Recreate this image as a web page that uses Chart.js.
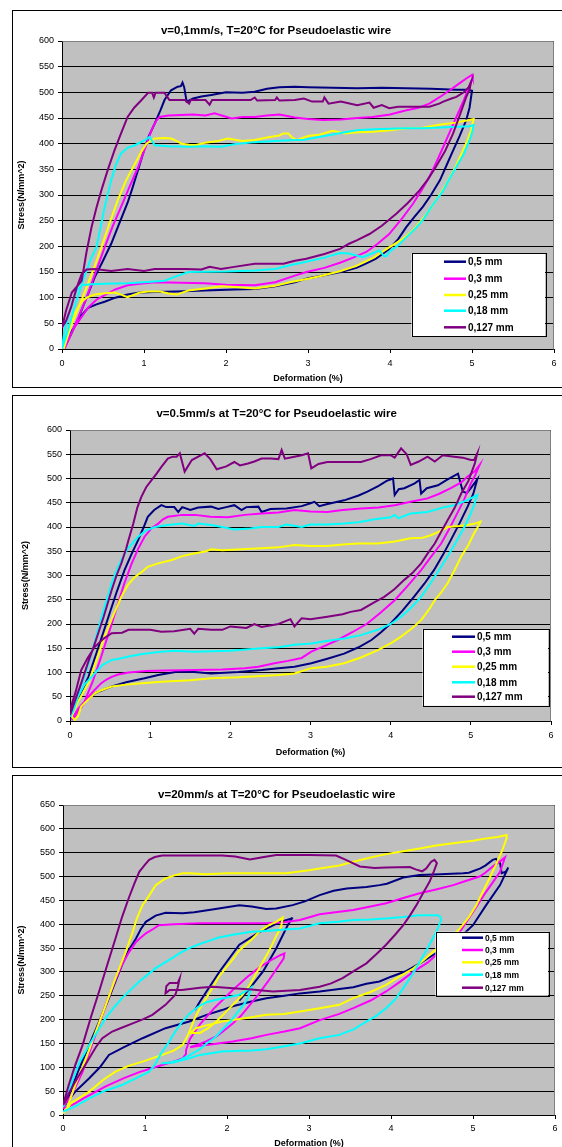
<!DOCTYPE html>
<html><head><meta charset="utf-8">
<script src="https://cdn.jsdelivr.net/npm/chart.js@4.4.0/dist/chart.umd.min.js"></script>
<style>
html,body{margin:0;padding:0;background:#fff;overflow:hidden;width:562px;height:1147px;position:relative;}
.panel{position:absolute;left:12px;width:600px;border:1px solid #000;box-sizing:border-box;}
canvas{position:absolute;left:0;}
</style></head><body>
<div class="panel" style="top:10px;height:378px"></div>
<div class="panel" style="top:395px;height:373px"></div>
<div class="panel" style="top:775px;height:400px"></div>
<canvas id="c1" width="562" height="377" style="top:10px;width:562px;height:377px"></canvas>
<canvas id="c2" width="562" height="372" style="top:395px;width:562px;height:372px"></canvas>
<canvas id="c3" width="562" height="380" style="top:775px;width:562px;height:380px"></canvas>
<script>
// ---------- labels ----------
const seriesLabels = ['0,5 mm','0,3 mm','0,25 mm','0,18 mm','0,127 mm'];
const seriesColors = ['#000080','#FF00FF','#FFFF00','#00FFFF','#800080'];
const chartTitles = ['v=0,1mm/s, T=20°C for Pseudoelastic wire','v=0.5mm/s at T=20°C for Pseudoelastic wire','v=20mm/s at T=20°C for Pseudoelastic wire'];
const xAxisTitle = 'Deformation (%)';
const yAxisTitle = 'Stress(N/mm^2)';
const xMax = 6, xStep = 1;
const yMaxes = [600, 600, 650], yStep = 50;

// ---------- chart 1: v=0,1 mm/s  [deformation %, stress] ----------
const c1_05 = [[0.02,0],[0.1,25],[0.2,60],[0.3,100],[0.4,140],[0.5,172],[0.6,205],[0.7,245],[0.8,285],[0.85,309],[0.92,345],[1.0,387],[1.06,415],[1.13,439],[1.2,465],[1.25,485],[1.33,504],[1.41,511],[1.45,512],[1.47,519],[1.49,510],[1.52,482],[1.6,488],[1.7,492],[1.82,495],[2.0,500],[2.2,499],[2.35,501],[2.5,507],[2.65,510],[2.84,511],[3.0,510],[3.3,509],[3.6,508],[3.9,509],[4.2,508],[4.5,507],[4.81,505],[4.95,505],[5.0,503],[4.97,470],[4.93,446],[4.85,415],[4.77,387],[4.69,358],[4.61,329],[4.5,300],[4.4,277],[4.3,258],[4.2,238],[4.1,214],[3.99,195],[3.83,176],[3.7,166],[3.59,158],[3.4,150],[3.18,143],[3.0,138],[2.84,130],[2.6,122],[2.35,117],[2.1,116],[1.74,114],[1.4,112],[1.13,111],[0.95,110],[0.8,106],[0.65,100],[0.52,92],[0.42,87],[0.32,80],[0.25,68],[0.2,55],[0.12,35],[0.07,16],[0.03,2]];
const c1_03 = [[0.03,0],[0.1,25],[0.2,62],[0.3,100],[0.4,145],[0.52,198],[0.62,240],[0.72,277],[0.82,315],[0.93,355],[1.0,385],[1.09,426],[1.15,445],[1.19,452],[1.3,455],[1.45,456],[1.6,457],[1.75,455],[1.86,459],[1.95,455],[2.07,449],[2.2,452],[2.35,452],[2.5,455],[2.65,457],[2.84,451],[3.0,448],[3.18,446],[3.4,447],[3.6,450],[3.79,452],[4.0,457],[4.2,465],[4.35,470],[4.48,478],[4.6,490],[4.73,504],[4.85,518],[4.93,527],[5.0,534],[5.01,528],[4.99,521],[4.9,485],[4.81,452],[4.73,423],[4.65,394],[4.56,362],[4.48,335],[4.38,308],[4.28,283],[4.15,255],[3.99,224],[3.85,205],[3.71,189],[3.55,178],[3.39,168],[3.2,158],[2.98,150],[2.84,143],[2.6,130],[2.35,124],[2.0,125],[1.74,128],[1.45,129],[1.13,130],[0.95,127],[0.8,124],[0.65,116],[0.52,105],[0.42,96],[0.32,81],[0.22,58],[0.15,42],[0.08,20],[0.03,0]];
const c1_025 = [[0.02,0],[0.1,40],[0.2,80],[0.3,120],[0.4,162],[0.48,198],[0.58,245],[0.68,290],[0.78,328],[0.89,361],[0.97,385],[1.03,400],[1.13,410],[1.25,411],[1.33,410],[1.4,405],[1.46,400],[1.55,398],[1.62,397],[1.75,402],[1.9,405],[2.02,410],[2.2,405],[2.35,407],[2.5,412],[2.65,416],[2.7,420],[2.76,420],[2.8,413],[2.86,407],[3.0,415],[3.15,418],[3.3,425],[3.45,420],[3.6,422],[3.79,423],[4.0,426],[4.2,430],[4.4,431],[4.6,437],[4.8,441],[4.97,446],[5.02,448],[5.0,435],[4.99,426],[4.94,405],[4.89,387],[4.8,355],[4.69,322],[4.58,294],[4.48,270],[4.38,250],[4.28,231],[4.15,214],[3.99,198],[3.8,178],[3.59,162],[3.4,152],[3.18,143],[3.0,137],[2.78,130],[2.6,123],[2.35,118],[2.1,121],[1.94,122],[1.75,118],[1.54,114],[1.4,106],[1.3,108],[1.2,112],[1.05,112],[0.95,110],[0.8,101],[0.72,106],[0.64,110],[0.5,108],[0.4,106],[0.3,100],[0.24,92],[0.15,68],[0.11,50],[0.06,25],[0.02,0]];
const c1_018 = [[0,0],[0.08,40],[0.15,81],[0.25,130],[0.35,175],[0.42,198],[0.52,276],[0.6,329],[0.66,360],[0.72,381],[0.8,392],[0.89,397],[1.01,407],[1.07,413],[1.1,405],[1.13,397],[1.3,395],[1.54,394],[1.75,395],[1.94,394],[2.1,399],[2.35,403],[2.6,405],[2.84,407],[2.94,407],[3.1,412],[3.3,418],[3.59,426],[3.8,428],[4.0,429],[4.2,430],[4.4,430],[4.7,432],[4.97,434],[5.02,436],[5.0,420],[4.97,407],[4.9,380],[4.81,355],[4.72,330],[4.65,309],[4.52,280],[4.4,251],[4.3,233],[4.2,218],[4.1,202],[3.99,189],[3.96,182],[3.93,180],[3.87,192],[3.78,186],[3.67,179],[3.5,186],[3.39,187],[3.2,178],[2.98,170],[2.78,163],[2.6,156],[2.35,153],[2.0,151],[1.54,150],[1.4,142],[1.25,133],[1.0,130],[0.8,128],[0.52,127],[0.35,126],[0.24,124],[0.18,115],[0.13,94],[0.08,65],[0.03,36],[0,0]];
const c1_0127 = [[0,42],[0.05,75],[0.12,110],[0.24,133],[0.3,190],[0.36,237],[0.42,275],[0.48,309],[0.56,350],[0.64,387],[0.72,420],[0.8,452],[0.88,470],[0.97,485],[1.05,499],[1.1,499],[1.12,490],[1.14,499],[1.25,499],[1.31,485],[1.5,485],[1.55,478],[1.57,485],[1.75,485],[1.8,476],[1.83,485],[2.1,485],[2.3,485],[2.35,490],[2.38,484],[2.6,485],[2.62,490],[2.65,484],[2.84,485],[2.95,488],[3.05,482],[3.18,482],[3.2,490],[3.25,478],[3.4,482],[3.6,475],[3.75,480],[3.8,470],[3.9,475],[3.99,469],[4.1,472],[4.3,472],[4.48,472],[4.6,478],[4.65,482],[4.75,488],[4.81,491],[4.9,500],[4.96,510],[4.99,521],[4.97,505],[4.93,491],[4.85,455],[4.77,420],[4.67,385],[4.56,355],[4.46,330],[4.36,309],[4.22,285],[4.08,264],[3.9,240],[3.75,224],[3.6,212],[3.5,205],[3.39,195],[3.2,185],[2.98,176],[2.84,172],[2.7,166],[2.35,166],[2.1,160],[1.94,156],[1.8,160],[1.7,155],[1.5,156],[1.13,156],[1.0,152],[0.8,156],[0.6,152],[0.4,156],[0.3,155],[0.24,146],[0.18,120],[0.11,81],[0.05,55],[0,42]];

// ---------- chart 2: v=0.5 mm/s ----------
const c2_05 = [[0,5],[0.1,45],[0.23,91],[0.35,150],[0.48,215],[0.58,265],[0.68,311],[0.77,345],[0.85,373],[0.92,400],[0.97,421],[1.05,435],[1.14,445],[1.2,441],[1.3,441],[1.35,431],[1.4,441],[1.5,435],[1.6,440],[1.76,442],[1.85,437],[1.95,441],[2.05,445],[2.14,435],[2.2,441],[2.35,442],[2.39,431],[2.5,437],[2.7,438],[2.89,443],[3.0,449],[3.05,452],[3.11,443],[3.2,447],[3.42,455],[3.6,465],[3.71,473],[3.85,485],[3.95,495],[4.03,500],[4.05,466],[4.1,478],[4.17,480],[4.3,490],[4.36,497],[4.38,469],[4.45,480],[4.59,486],[4.7,497],[4.84,510],[4.9,473],[4.95,470],[5.0,480],[5.08,498],[5.03,468],[4.96,442],[4.86,408],[4.75,373],[4.65,342],[4.54,311],[4.42,283],[4.29,256],[4.15,228],[4.0,201],[3.88,183],[3.76,167],[3.6,152],[3.42,139],[3.2,128],[3.01,119],[2.8,112],[2.6,109],[2.39,105],[2.1,101],[1.76,98],[1.55,101],[1.35,102],[1.1,95],[0.93,88],[0.7,80],[0.52,71],[0.4,63],[0.31,57],[0.2,42],[0.14,30],[0.07,15],[0.02,5]];
const c2_03 = [[0.02,2],[0.1,25],[0.18,40],[0.28,80],[0.39,133],[0.5,190],[0.6,243],[0.68,285],[0.77,325],[0.85,355],[0.93,380],[1.02,398],[1.1,407],[1.16,416],[1.22,421],[1.4,425],[1.56,425],[1.75,421],[1.97,420],[2.18,425],[2.39,428],[2.6,430],[2.8,435],[3.0,432],[3.21,431],[3.4,435],[3.63,438],[3.85,440],[4.05,445],[4.25,452],[4.46,459],[4.6,468],[4.75,480],[4.88,492],[4.96,504],[5.05,515],[5.11,528],[5.05,505],[5.0,490],[4.92,458],[4.83,428],[4.73,396],[4.63,366],[4.5,338],[4.38,311],[4.22,280],[4.05,249],[3.88,224],[3.71,201],[3.52,183],[3.34,167],[3.15,153],[3.01,143],[2.89,130],[2.72,124],[2.55,119],[2.35,112],[2.18,109],[1.9,106],[1.56,105],[1.2,104],[0.95,103],[0.73,100],[0.6,96],[0.52,91],[0.45,85],[0.39,78],[0.3,63],[0.23,50],[0.15,30],[0.06,9],[0.02,2]];
const c2_025 = [[0.02,9],[0.1,40],[0.23,78],[0.33,125],[0.43,174],[0.54,218],[0.64,256],[0.72,280],[0.81,297],[0.9,308],[0.97,318],[1.1,325],[1.27,332],[1.4,340],[1.56,346],[1.7,350],[1.76,354],[1.9,352],[2.14,354],[2.39,356],[2.6,358],[2.8,363],[3.0,361],[3.21,361],[3.4,364],[3.6,366],[3.84,366],[4.05,370],[4.25,377],[4.4,378],[4.5,383],[4.6,390],[4.71,400],[4.85,402],[4.96,404],[5.05,407],[5.12,411],[5.08,398],[5.04,387],[4.97,363],[4.88,339],[4.8,312],[4.71,284],[4.63,265],[4.55,249],[4.47,228],[4.38,208],[4.26,190],[4.13,174],[4.0,160],[3.84,146],[3.63,131],[3.42,119],[3.2,112],[3.01,109],[2.8,98],[2.6,95],[2.39,93],[2.1,90],[1.76,88],[1.5,84],[1.14,81],[0.9,78],[0.7,75],[0.52,71],[0.4,64],[0.31,57],[0.2,40],[0.14,30],[0.1,10],[0.06,2],[0.02,9]];
const c2_018 = [[0,9],[0.08,50],[0.18,91],[0.27,140],[0.35,188],[0.44,240],[0.52,284],[0.58,310],[0.64,332],[0.72,355],[0.85,380],[0.95,393],[1.06,400],[1.22,404],[1.4,407],[1.55,402],[1.6,407],[1.76,404],[1.9,400],[2.05,395],[2.25,397],[2.39,400],[2.6,400],[2.7,405],[2.89,400],[3.0,405],[3.21,405],[3.42,407],[3.6,410],[3.8,416],[4.0,420],[4.05,425],[4.1,418],[4.25,428],[4.46,431],[4.65,440],[4.79,445],[4.95,455],[5.08,466],[5.04,445],[5.0,428],[4.92,400],[4.83,373],[4.73,345],[4.63,318],[4.5,285],[4.38,256],[4.25,233],[4.13,215],[4.0,200],[3.84,188],[3.63,177],[3.42,170],[3.2,165],[3.01,160],[2.8,157],[2.6,152],[2.39,150],[2.0,145],[1.56,143],[1.3,145],[1.14,143],[0.9,138],[0.73,133],[0.6,128],[0.52,126],[0.4,115],[0.27,91],[0.18,75],[0.1,50],[0.04,20],[0,9]];
const c2_0127 = [[0,12],[0.07,45],[0.14,78],[0.22,118],[0.31,160],[0.42,215],[0.52,270],[0.58,300],[0.64,325],[0.7,355],[0.73,373],[0.79,407],[0.84,440],[0.89,462],[0.95,482],[1.02,497],[1.08,510],[1.14,524],[1.22,541],[1.28,545],[1.33,545],[1.37,552],[1.43,514],[1.47,525],[1.52,538],[1.6,545],[1.68,552],[1.75,540],[1.83,519],[1.95,525],[2.05,534],[2.12,527],[2.22,531],[2.3,535],[2.39,541],[2.5,541],[2.6,540],[2.64,559],[2.68,541],[2.8,545],[2.89,548],[2.97,552],[3.01,521],[3.1,530],[3.21,534],[3.4,534],[3.63,534],[3.75,540],[3.88,548],[4.0,548],[4.05,543],[4.13,562],[4.2,550],[4.25,528],[4.35,535],[4.46,545],[4.55,535],[4.65,548],[4.79,545],[4.9,543],[5.0,538],[5.04,538],[5.08,552],[5.05,531],[4.97,495],[4.88,469],[4.8,440],[4.71,414],[4.63,390],[4.55,366],[4.46,345],[4.38,325],[4.27,305],[4.17,291],[4.05,272],[3.92,256],[3.8,245],[3.63,229],[3.5,225],[3.4,220],[3.21,215],[3.0,210],[2.89,212],[2.8,195],[2.75,210],[2.6,200],[2.39,194],[2.3,200],[2.2,192],[2.0,195],[1.9,188],[1.76,188],[1.6,190],[1.55,180],[1.5,190],[1.3,185],[1.14,184],[1.0,188],[0.85,188],[0.73,188],[0.65,182],[0.52,181],[0.42,170],[0.31,153],[0.22,130],[0.14,105],[0.07,60],[0,23]];

// ---------- chart 3: v=20 mm/s (null pair = break in the line) ----------
const c3_05 = [[0,17],[0.03,24],[0.15,49],[0.32,77],[0.45,100],[0.56,126],[0.75,143],[0.97,161],[1.25,182],[1.54,196],[1.75,210],[1.94,220],[2.07,228],[2.3,238],[2.48,245],[2.7,250],[2.89,255],[3.13,259],[3.37,264],[3.54,268],[3.7,275],[3.86,280],[4.0,290],[4.19,302],[4.35,318],[4.51,335],[4.7,355],[4.84,372],[5.0,398],[5.16,440],[5.33,482],[5.43,519],[5.4,510],[5.35,507],[5.33,528],[5.28,537],[5.24,535],[5.15,523],[5.09,517],[4.95,508],[4.88,507],[4.6,505],[4.35,503],[4.15,498],[3.95,485],[3.86,482],[3.7,478],[3.46,475],[3.3,470],[3.13,461],[2.95,448],[2.8,440],[2.6,433],[2.48,432],[2.3,437],[2.15,440],[1.86,432],[1.6,425],[1.46,423],[1.25,424],[1.13,418],[1.01,405],[0.95,390],[0.89,370],[0.8,345],[0.72,315],[0.64,280],[0.56,245],[0.44,195],[0.32,147],[0.18,90],[0.03,21],[null,null],[1.61,220],[1.67,238],[1.91,301],[2.15,357],[2.4,384],[2.65,405],[2.79,412],[2.8,414],[2.74,398],[2.6,349],[2.44,301],[2.28,266],[2.15,240]];
const c3_03 = [[0,14],[0.12,22],[0.25,35],[0.52,60],[0.75,78],[0.93,90],[1.21,105],[1.35,112],[1.46,119],[1.5,128],[1.5,136],[1.55,160],[1.67,190],[1.85,225],[2.07,262],[2.25,290],[2.4,310],[2.55,326],[2.65,335],[2.7,339],[2.69,328],[2.6,305],[2.5,280],[2.38,252],[2.28,231],[2.17,208],[2.07,192],[1.95,175],[1.87,165],[1.75,155],[1.67,149],[1.55,142],[1.62,144],[1.8,148],[2.07,154],[2.3,161],[2.48,168],[2.7,175],[2.89,182],[3.13,199],[3.37,212],[3.54,224],[3.75,240],[3.94,259],[4.1,278],[4.27,300],[4.45,320],[4.59,342],[4.72,362],[4.84,384],[5.0,426],[5.16,468],[5.25,490],[5.33,510],[5.39,540],[5.3,528],[5.24,521],[5.15,508],[5.08,500],[4.9,490],[4.76,482],[4.55,473],[4.35,465],[4.15,455],[3.94,444],[3.75,437],[3.54,430],[3.37,426],[3.13,421],[2.89,409],[2.7,404],[2.48,402],[2.07,402],[1.67,402],[1.35,400],[1.17,398],[1.1,390],[1.01,381],[0.95,372],[0.89,363],[0.8,340],[0.72,315],[0.62,275],[0.52,231],[0.38,160],[0.24,91],[0.1,40],[0,17]];
const c3_025 = [[0,3],[0.1,25],[0.32,49],[0.5,75],[0.64,91],[0.8,103],[0.97,112],[1.21,126],[1.35,135],[1.46,147],[1.5,160],[1.53,170],[1.6,200],[1.67,224],[1.8,260],[1.9,290],[2.05,322],[2.15,345],[2.3,368],[2.4,385],[2.5,397],[2.6,405],[2.68,414],[2.66,395],[2.6,375],[2.5,340],[2.45,325],[2.35,295],[2.28,273],[2.18,250],[2.07,231],[1.97,213],[1.87,196],[1.77,182],[1.67,172],[1.55,172],[1.6,178],[1.62,182],[1.8,190],[1.94,196],[2.07,199],[2.3,205],[2.48,210],[2.7,212],[2.89,217],[3.13,224],[3.37,231],[3.54,245],[3.75,258],[3.94,273],[4.1,290],[4.27,307],[4.4,325],[4.51,342],[4.67,363],[4.84,391],[4.95,415],[5.04,440],[5.12,468],[5.2,496],[5.28,525],[5.35,552],[5.41,580],[5.41,587],[5.3,583],[5.16,580],[5.0,575],[4.76,570],[4.55,565],[4.35,559],[4.15,553],[3.94,547],[3.75,540],[3.54,531],[3.37,523],[3.13,517],[3.0,513],[2.72,507],[2.35,507],[2.0,507],[1.74,505],[1.55,507],[1.46,507],[1.35,502],[1.25,496],[1.13,482],[1.05,460],[0.97,440],[0.9,412],[0.85,384],[0.75,335],[0.64,287],[0.52,230],[0.4,175],[0.28,118],[0.15,63],[0.05,15],[0,3]];
const c3_018 = [[0,7],[0.15,18],[0.32,35],[0.5,50],[0.72,63],[0.9,78],[1.05,91],[1.11,103],[1.16,118],[1.21,133],[1.3,155],[1.37,175],[1.45,195],[1.54,212],[1.64,226],[1.74,236],[1.88,242],[2.02,247],[2.15,252],[2.25,262],[2.3,268],[2.27,252],[2.22,235],[2.14,218],[2.05,198],[1.95,180],[1.85,162],[1.75,150],[1.67,138],[1.54,125],[1.42,115],[1.3,110],[1.2,108],[1.35,110],[1.54,119],[1.67,126],[1.94,133],[2.07,134],[2.3,135],[2.48,138],[2.7,144],[2.89,150],[3.13,161],[3.37,168],[3.55,180],[3.7,196],[3.82,208],[3.94,224],[4.05,242],[4.15,266],[4.25,292],[4.35,321],[4.44,348],[4.51,370],[4.58,395],[4.61,409],[4.6,416],[4.57,419],[4.35,419],[4.15,415],[3.94,412],[3.75,410],[3.54,409],[3.35,405],[3.13,402],[2.89,391],[2.7,389],[2.48,386],[2.3,384],[2.07,378],[1.9,372],[1.78,365],[1.66,358],[1.54,350],[1.43,340],[1.33,329],[1.13,308],[0.93,280],[0.72,245],[0.62,225],[0.52,203],[0.42,175],[0.32,147],[0.2,110],[0.11,70],[0.05,40],[0,17]];
const c3_0127 = [[0,21],[0.07,63],[0.15,105],[0.24,147],[0.34,205],[0.44,259],[0.54,315],[0.64,370],[0.72,415],[0.8,454],[0.87,485],[0.93,510],[1.0,525],[1.05,535],[1.12,541],[1.21,544],[1.5,544],[1.94,544],[2.1,542],[2.28,536],[2.45,541],[2.6,545],[3.0,545],[3.33,544],[3.45,535],[3.62,521],[3.8,518],[3.94,519],[4.23,520],[4.3,515],[4.38,511],[4.43,517],[4.49,531],[4.53,535],[4.56,528],[4.52,510],[4.47,489],[4.39,465],[4.31,440],[4.23,418],[4.15,398],[4.05,378],[3.94,357],[3.82,337],[3.7,318],[3.55,302],[3.41,287],[3.27,276],[3.13,269],[2.89,262],[2.56,259],[2.3,263],[2.07,266],[1.83,269],[1.67,267],[1.45,262],[1.3,262],[1.25,255],[1.26,270],[1.3,277],[1.4,277],[1.42,285],[1.4,268],[1.37,252],[1.25,231],[1.09,210],[0.98,201],[0.85,192],[0.7,182],[0.6,175],[0.48,161],[0.4,142],[0.32,119],[0.22,90],[0.15,70],[0.07,45],[0.03,28],[0,21]];

// ---------- layout (positions only) ----------
const layouts = [
  {pl:16,pr:8,pt:31,pb:3,yW:46,xH:35,yPad:4,xPad:5,titleX:276,titleY:20.7,titleSize:11.5,
   leg:{x:411.5,y:243.3,w:133.5,h:83.4,rows:[251.7,268.7,285,300.7,317.3],l0:444,l1:466,tx:468,size:10}},
  {pl:20,pr:11,pt:35,pb:9,yW:50,xH:37,yPad:4,xPad:5,titleX:276.7,titleY:19.3,titleSize:11.5,
   leg:{x:422.5,y:234.3,w:125.5,h:76.5,rows:[241.7,256.7,271.7,287.3,301.7],l0:452,l1:475,tx:477,size:10}},
  {pl:16,pr:7,pt:30,pb:6,yW:47,xH:34,yPad:4,xPad:4,titleX:276.7,titleY:19.7,titleSize:11.5,
   leg:{x:435.5,y:156.7,w:112.5,h:64,rows:[162.7,175,187.3,199.7,212.7],l0:462,l1:483,tx:485,size:8.5}}
];

const FONT = '"Liberation Sans", Arial, Helvetica, sans-serif';
Chart.defaults.font.family = FONT;
Chart.defaults.color = '#000';

const decoPlugin = {
  id: 'xlDeco',
  beforeDraw(chart, args, opts) {
    const {ctx, chartArea: a} = chart;
    ctx.save();
    ctx.fillStyle = '#C0C0C0';
    ctx.fillRect(a.left, a.top, a.right - a.left, a.bottom - a.top);
    ctx.restore();
  },
  afterDraw(chart, args, opts) {
    const {ctx, chartArea: a} = chart;
    ctx.save();
    // plot-area outline (top/right grey)
    ctx.strokeStyle = '#808080';
    ctx.lineWidth = 1;
    ctx.beginPath();
    ctx.moveTo(Math.round(a.left) + 0.5, Math.round(a.top) + 0.5);
    ctx.lineTo(Math.round(a.right) - 0.5, Math.round(a.top) + 0.5);
    ctx.lineTo(Math.round(a.right) - 0.5, Math.round(a.bottom) + 0.5);
    ctx.stroke();
    // title
    ctx.fillStyle = '#000';
    ctx.font = 'bold ' + opts.titleSize + 'px ' + FONT;
    ctx.textAlign = 'center';
    ctx.textBaseline = 'middle';
    ctx.fillText(opts.title, opts.titleX, opts.titleY);
    // legend
    const L = opts.leg;
    ctx.fillStyle = '#fff';
    ctx.fillRect(L.x, L.y, L.w, L.h);
    ctx.strokeStyle = '#000';
    ctx.lineWidth = 1;
    ctx.strokeRect(Math.round(L.x) + 0.5, Math.round(L.y) + 0.5, Math.round(L.w), Math.round(L.h));
    ctx.font = 'bold ' + L.size + 'px ' + FONT;
    ctx.textAlign = 'left';
    chart.data.datasets.forEach((ds, i) => {
      const y = L.rows[i];
      ctx.strokeStyle = ds.borderColor;
      ctx.lineWidth = 2.5;
      ctx.beginPath();
      ctx.moveTo(L.l0, y);
      ctx.lineTo(L.l1, y);
      ctx.stroke();
      ctx.fillStyle = '#000';
      ctx.fillText(ds.label, L.tx, y + 0.5);
    });
    ctx.restore();
  }
};

function toPoints(arr) {
  return arr.map(p => ({x: p[0], y: p[1]}));
}

function makeChart(id, idx, series) {
  const lay = layouts[idx];
  const yMax = yMaxes[idx];
  const H = document.getElementById(id).height;
  return new Chart(document.getElementById(id), {
    type: 'scatter',
    data: {
      datasets: series.map((s, i) => ({
        label: seriesLabels[i],
        data: toPoints(s),
        borderColor: seriesColors[i],
        backgroundColor: seriesColors[i],
        borderWidth: 2,
        pointRadius: 0,
        pointHoverRadius: 0,
        showLine: true,
        tension: 0,
        spanGaps: false,
        order: series.length - 1 - i
      }))
    },
    options: {
      responsive: false,
      animation: false,
      events: [],
      layout: {padding: {left: lay.pl, right: lay.pr, top: lay.pt, bottom: lay.pb}},
      scales: {
        x: {
          type: 'linear', min: 0, max: xMax,
          ticks: {stepSize: xStep, padding: lay.xPad, maxRotation: 0, color: '#000', font: {size: 9}},
          grid: {display: true, drawOnChartArea: false, drawTicks: true, tickLength: 4, color: '#000'},
          border: {display: true, color: '#000', width: 1},
          title: {display: true, text: xAxisTitle, font: {size: 9, weight: 'bold'}, color: '#000', padding: 0},
          afterFit(scale) { scale.height = lay.xH; }
        },
        y: {
          type: 'linear', min: 0, max: yMax,
          ticks: {stepSize: yStep, padding: lay.yPad, color: '#000', font: {size: 9}, autoSkip: false},
          grid: {display: true, drawTicks: true, tickLength: 4, color: '#000', lineWidth: 1},
          border: {display: true, color: '#000', width: 1},
          title: {display: true, text: yAxisTitle, font: {size: 9, weight: 'bold'}, color: '#000', padding: 0},
          afterFit(scale) { scale.width = lay.yW; }
        }
      },
      plugins: {
        legend: {display: false},
        tooltip: {enabled: false},
        title: {display: false},
        xlDeco: {title: chartTitles[idx], titleX: lay.titleX, titleY: lay.titleY, titleSize: lay.titleSize, leg: lay.leg}
      }
    },
    plugins: [decoPlugin]
  });
}

makeChart('c1', 0, [c1_05, c1_03, c1_025, c1_018, c1_0127]);
makeChart('c2', 1, [c2_05, c2_03, c2_025, c2_018, c2_0127]);
makeChart('c3', 2, [c3_05, c3_03, c3_025, c3_018, c3_0127]);
</script>
</body></html>
